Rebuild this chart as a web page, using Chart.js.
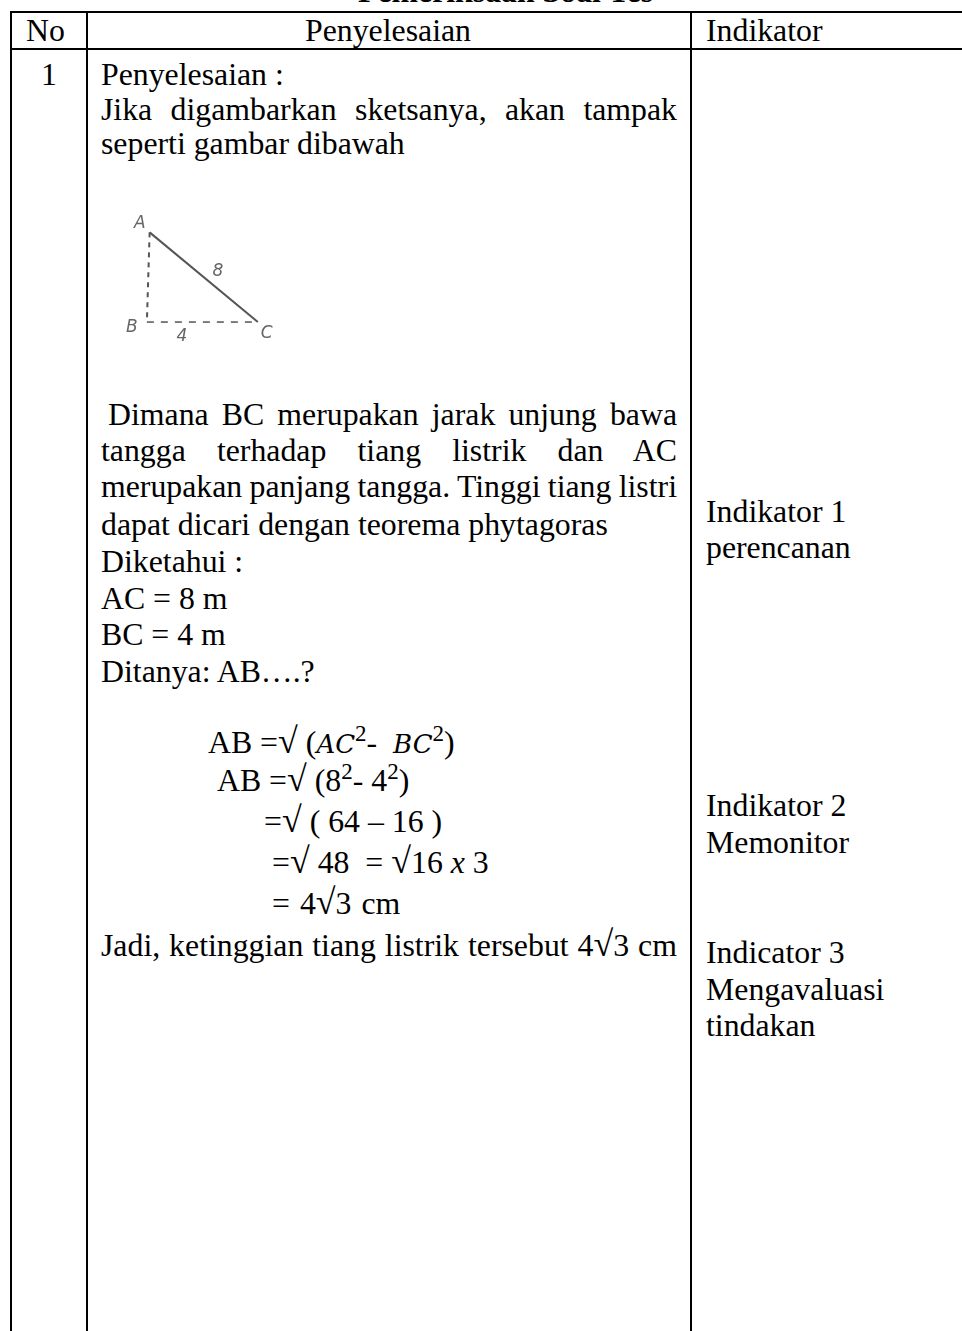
<!DOCTYPE html>
<html>
<head>
<meta charset="utf-8">
<title>Pemeriksaan Soal Tes</title>
<script src="https://cdn.jsdelivr.net/npm/chart.js@4"></script>
<style>
  html, body { margin: 0; padding: 0; background: #fff; }
  #page { position: relative; width: 962px; height: 1331px; overflow: hidden;
          font-family: "Liberation Serif", serif; font-size: 31.8px; color: #000; }
  .t { position: absolute; line-height: 36px; white-space: pre; }
  .j { left: 101px; width: 576px; white-space: normal; text-align: justify; text-align-last: justify; }
  .r { position: absolute; background: #000; }
  .t sup { font-size: 23px; line-height: 0; }
  .t i { font-family: "DejaVu Serif", serif; font-size: 26px; }
  .akar { font-size: 36px; line-height: 0; }
  #sketch { position: absolute; left: 90px; top: 200px; filter: blur(0.6px); }
</style>
</head>
<body>
<div id="page">
  <div class="t" style="left:358px;top:-26px;font-weight:bold">Pemeriksaan Soal Tes</div>

  <div class="r" style="left:10px;top:11px;width:952px;height:2px"></div>
  <div class="r" style="left:10px;top:48px;width:952px;height:2px"></div>
  <div class="r" style="left:10px;top:11px;width:2px;height:1320px"></div>
  <div class="r" style="left:86px;top:11px;width:2px;height:1320px"></div>
  <div class="r" style="left:690px;top:11px;width:2px;height:1320px"></div>

  <div class="t" style="left:26px;top:13px">No</div>
  <div class="t" style="left:305px;top:13px">Penyelesaian</div>
  <div class="t" style="left:706px;top:13px">Indikator</div>
  <div class="t" style="left:41px;top:57px">1</div>

  <div class="t" style="left:101px;top:57px">Penyelesaian :</div>
  <div class="t j" style="top:92px">Jika digambarkan sketsanya, akan tampak</div>
  <div class="t" style="left:101px;top:126px">seperti gambar dibawah</div>

  <div class="t j" style="left:108px;width:569px;top:397px">Dimana BC merupakan jarak unjung bawa</div>
  <div class="t j" style="top:433px">tangga terhadap tiang listrik dan AC</div>
  <div class="t j" style="top:469px;word-spacing:-4px">merupakan panjang tangga. Tinggi tiang listri</div>
  <div class="t" style="left:101px;top:507px">dapat dicari dengan teorema phytagoras</div>
  <div class="t" style="left:101px;top:544px">Diketahui :</div>
  <div class="t" style="left:101px;top:581px">AC = 8 m</div>
  <div class="t" style="left:101px;top:617px">BC = 4 m</div>
  <div class="t" style="left:101px;top:654px">Ditanya: AB….?</div>

  <div class="t" style="left:208px;top:725px">AB =<span class="akar">√</span> (<i>AC</i><sup>2</sup>-  <i>BC</i><sup>2</sup>)</div>
  <div class="t" style="left:217px;top:763px">AB =<span class="akar">√</span> (8<sup>2</sup>- 4<sup>2</sup>)</div>
  <div class="t" style="left:264px;top:804px">=<span class="akar">√</span> ( 64 – 16 )</div>
  <div class="t" style="left:272px;top:845px">=<span class="akar">√</span> 48  = <span class="akar">√</span>16 <em>x</em> 3</div>
  <div class="t" style="left:272px;top:886px;word-spacing:2px">= 4<span class="akar">√</span>3 cm</div>
  <div class="t" style="left:101px;top:928px;word-spacing:1px">Jadi, ketinggian tiang listrik tersebut 4<span class="akar">√</span>3 cm</div>

  <div class="t" style="left:706px;top:494px">Indikator 1</div>
  <div class="t" style="left:706px;top:530px">perencanan</div>
  <div class="t" style="left:706px;top:788px">Indikator 2</div>
  <div class="t" style="left:706px;top:825px">Memonitor</div>
  <div class="t" style="left:706px;top:935px">Indicator 3</div>
  <div class="t" style="left:706px;top:972px">Mengavaluasi</div>
  <div class="t" style="left:706px;top:1008px">tindakan</div>

  <canvas id="sketch" width="220" height="170"></canvas>
</div>

<script>
// nilai sketsa segitiga (satuan meter)
const titikX = [0.1, 0, 4];
const titikY = [6.9, 0, 0];
const labelTeks = ['A', 'B', 'C', '8', '4'];
const labelX = [-0.25, -0.54, 4.32, 2.56, 1.26];
const labelY = [7.6, -0.46, -0.85, 3.85, -1.15];

const labelSketsa = {
    id: 'labelSketsa',
    afterDatasetsDraw(chart) {
        const ctx = chart.ctx;
        ctx.save();
        ctx.font = 'italic 17px "DejaVu Sans"';
        ctx.fillStyle = '#666';
        ctx.textAlign = 'center';
        ctx.textBaseline = 'middle';
        labelTeks.forEach(function (teks, i) {
            ctx.fillText(teks, chart.scales.x.getPixelForValue(labelX[i]), chart.scales.y.getPixelForValue(labelY[i]));
        });
        ctx.restore();
    }
};

new Chart(document.getElementById('sketch'), {
    type: 'scatter',
    data: {
        datasets: [
            { data: [{ x: titikX[0], y: titikY[0] }, { x: titikX[2], y: titikY[2] }], showLine: true, borderColor: '#555', borderWidth: 2, pointRadius: 0 },
            { data: [{ x: titikX[0], y: titikY[0] }, { x: titikX[1], y: titikY[1] }], showLine: true, borderColor: '#555', borderWidth: 2, borderDash: [5, 5], pointRadius: 0 },
            { data: [{ x: titikX[1], y: titikY[1] }, { x: titikX[2], y: titikY[2] }], showLine: true, borderColor: '#555', borderWidth: 1.5, borderDash: [7, 7], pointRadius: 0 }
        ]
    },
    options: {
        responsive: false,
        animation: false,
        layout: { padding: 0 },
        plugins: { legend: { display: false }, tooltip: { enabled: false } },
        scales: {
            x: { display: false, min: -2.05, max: 5.88 },
            y: { display: false, min: -3.69, max: 9.39 }
        }
    },
    plugins: [labelSketsa]
});
</script>
</body>
</html>
